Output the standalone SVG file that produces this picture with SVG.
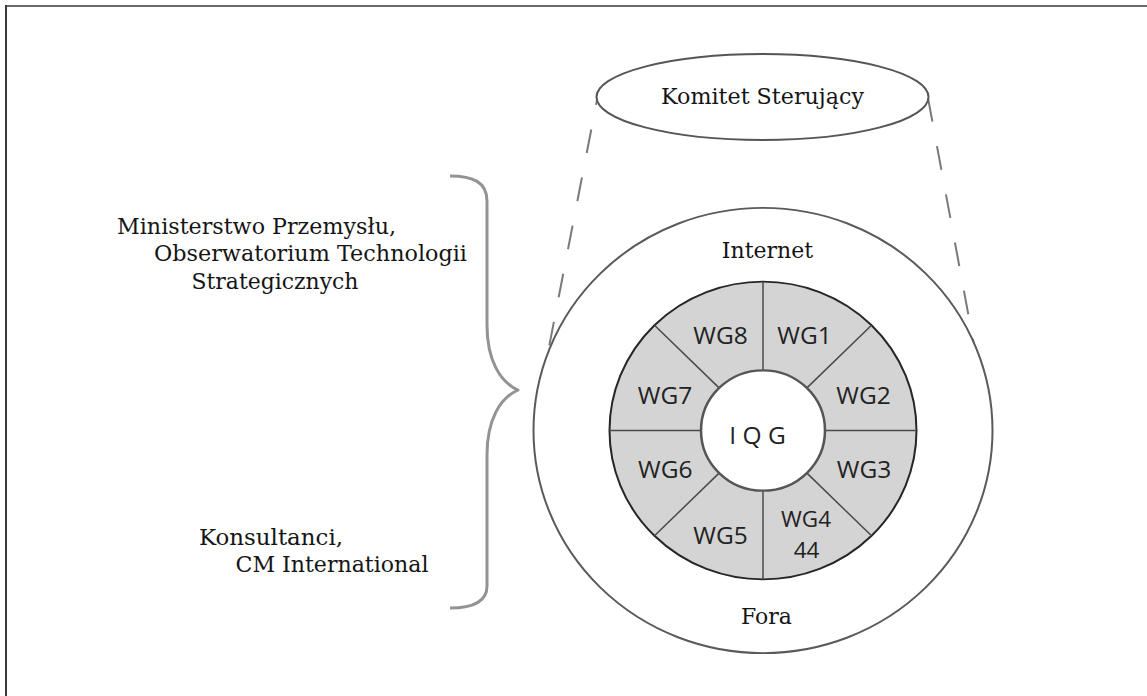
<svg xmlns="http://www.w3.org/2000/svg" width="1147" height="696" viewBox="0 0 1147 696">
  <style>
    .serif { font-family: "DejaVu Serif", "Liberation Serif", serif; font-size: 22px; fill: #151515; }
    .sans { font-family: "Open Sans", "Noto Sans", "DejaVu Sans", sans-serif; font-size: 24.5px; fill: #222; }
    .tight { font-size: 22.5px; }
    .mid { text-anchor: middle; }
    .dash { fill: none; stroke: #7a7a7a; stroke-width: 2; stroke-dasharray: 24 25; stroke-linecap: butt; }
    .divider { stroke: #4a4a4a; stroke-width: 1.5; }
  </style>

  <rect width="1147" height="696" fill="#ffffff"/>

  <!-- frame: top and left rules -->
  <g id="frame">
    <line x1="5" y1="6" x2="1147" y2="6" stroke="#6a6a6a" stroke-width="2"/>
    <line x1="6" y1="5" x2="6" y2="696" stroke="#3a3a3a" stroke-width="2"/>
  </g>

  <!-- projection lines from the committee down to the outer circle -->
  <g id="connectors">
    <line class="dash" x1="597" y1="100" x2="549" y2="347" stroke-dashoffset="19"/>
    <line class="dash" x1="928" y1="98" x2="974" y2="345"/>
  </g>

  <!-- steering committee -->
  <g id="komitet">
    <ellipse cx="762.5" cy="97" rx="166" ry="43" fill="#ffffff" stroke="#555" stroke-width="2"/>
    <text class="serif mid" x="762.5" y="103.5" textLength="203" lengthAdjust="spacingAndGlyphs">Komitet Sterujący</text>
  </g>

  <!-- curly brace grouping the two actor labels -->
  <g id="brace">
    <path d="M450,176 C473,176 487,182 487,201 L487,325 C487,360 500,382 518,390 C500,398 487,420 487,455 L487,586 C487,602 473,608 450,608" fill="none" stroke="#939393" stroke-width="3" stroke-linejoin="round"/>
  </g>

  <g id="ministerstwo">
    <text class="serif" x="117" y="233.5" textLength="279" lengthAdjust="spacingAndGlyphs">Ministerstwo Przemysłu,</text>
    <text class="serif" x="154" y="261" textLength="313" lengthAdjust="spacingAndGlyphs">Obserwatorium Technologii</text>
    <text class="serif" x="191.5" y="288.5" textLength="167" lengthAdjust="spacingAndGlyphs">Strategicznych</text>
  </g>

  <g id="konsultanci">
    <text class="serif" x="199" y="545" textLength="144" lengthAdjust="spacingAndGlyphs">Konsultanci,</text>
    <text class="serif" x="235.5" y="572" textLength="193" lengthAdjust="spacingAndGlyphs">CM International</text>
  </g>

  <!-- outer circle: Internet / Fora -->
  <g id="outer-ring">
    <g transform="translate(763,430.5) scale(1,0.97)">
      <circle r="229.5" fill="#ffffff" stroke="#5a5a5a" stroke-width="2"/>
    </g>
    <text class="serif mid" x="767.5" y="257.5">Internet</text>
    <text class="serif mid" x="766.5" y="623.5">Fora</text>
  </g>

  <!-- working-group ring, eight sectors -->
  <g id="working-groups">
    <g transform="translate(763,430.5) scale(1,0.97)">
      <circle r="153.5" fill="#d4d4d4" stroke="#262626" stroke-width="2"/>
      <line class="divider" x1="0" y1="-62.5" x2="0" y2="-153.5"/>
      <line class="divider" x1="0" y1="62.5" x2="0" y2="153.5"/>
      <line class="divider" x1="62.5" y1="0" x2="153.5" y2="0"/>
      <line class="divider" x1="-62.5" y1="0" x2="-153.5" y2="0"/>
      <line class="divider" x1="44.2" y1="-44.2" x2="108.5" y2="-108.5"/>
      <line class="divider" x1="44.2" y1="44.2" x2="108.5" y2="108.5"/>
      <line class="divider" x1="-44.2" y1="44.2" x2="-108.5" y2="108.5"/>
      <line class="divider" x1="-44.2" y1="-44.2" x2="-108.5" y2="-108.5" stroke="#8a8a8a"/>
    </g>
    <text class="sans mid" x="720.5" y="344">WG8</text>
    <text class="sans mid" x="804.5" y="344">WG1</text>
    <text class="sans mid" x="665" y="403.5">WG7</text>
    <text class="sans mid" x="863.5" y="403.5">WG2</text>
    <text class="sans mid" x="665.3" y="477.5">WG6</text>
    <text class="sans mid" x="864" y="477.5">WG3</text>
    <text class="sans mid" x="720.5" y="543.5">WG5</text>
    <text class="sans tight mid"><tspan x="806" y="527">WG4</tspan><tspan x="806.5" y="558">44</tspan></text>
  </g>

  <!-- core: IQG -->
  <g id="iqg">
    <g transform="translate(763,430.5) scale(1,0.97)">
      <circle r="62" fill="#ffffff" stroke="#555" stroke-width="2.5"/>
    </g>
    <text class="sans mid" x="757.5" y="443.5">I Q G</text>
  </g>
</svg>
